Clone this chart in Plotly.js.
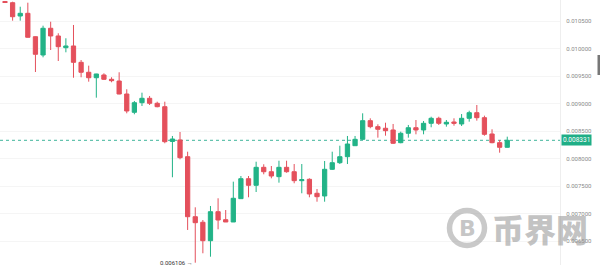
<!DOCTYPE html>
<html>
<head>
<meta charset="utf-8">
<script src="https://cdn.plot.ly/plotly-3.0.1.min.js"></script>
<style>
  html, body { margin: 0; padding: 0; background: #fff; }
  #chart { width: 600px; height: 265px; }
</style>
</head>
<body>
<div id="chart"></div>
<script>
// OHLC values (oldest first)
const openV = [
  0.010873, 0.010855, 0.010833, 0.010591, 0.010640, 0.010215, 0.009882, 0.010368, 0.010228, 0.010015,
  0.010046, 0.009749, 0.009568, 0.009469, 0.009519, 0.009440, 0.009409, 0.009173, 0.008840, 0.009015,
  0.009095, 0.009004, 0.008942, 0.008310, 0.008337, 0.008033, 0.006942, 0.006841, 0.006506, 0.007033,
  0.006888, 0.006846, 0.007270, 0.007633, 0.007513, 0.007840, 0.007760, 0.007670, 0.007840, 0.007760,
  0.007597, 0.007622, 0.007368, 0.007319, 0.007804, 0.007924, 0.008033, 0.008233, 0.008349, 0.008688,
  0.008579, 0.008550, 0.008519, 0.008288, 0.008459, 0.008560, 0.008519, 0.008640, 0.008731, 0.008628,
  0.008664, 0.008628, 0.008731, 0.008833, 0.008742, 0.008446, 0.008288, 0.008204
];
const highV = [
  0.010882, 0.010864, 0.010851, 0.010760, 0.010833, 0.010220, 0.010415, 0.010487, 0.010277, 0.010186,
  0.010428, 0.009791, 0.009688, 0.009540, 0.009549, 0.009477, 0.009568, 0.009259, 0.009046, 0.009197,
  0.009137, 0.009033, 0.009033, 0.008410, 0.008482, 0.008124, 0.007113, 0.006882, 0.007137, 0.007277,
  0.007064, 0.007579, 0.007682, 0.007682, 0.007942, 0.007895, 0.007864, 0.007960, 0.007960, 0.007900,
  0.007900, 0.007640, 0.007446, 0.007955, 0.008124, 0.008233, 0.008410, 0.008410, 0.008822, 0.008731,
  0.008622, 0.008651, 0.008628, 0.008488, 0.008610, 0.008700, 0.008682, 0.008760, 0.008760, 0.008700,
  0.008731, 0.008809, 0.008869, 0.008973, 0.008779, 0.008531, 0.008337, 0.008397
];
const lowV = [
  0.010827, 0.010827, 0.010506, 0.010506, 0.010200, 0.009573, 0.009840, 0.009973, 0.009773, 0.009931,
  0.009469, 0.009477, 0.009397, 0.009106, 0.009428, 0.009386, 0.009168, 0.008822, 0.008804, 0.008955,
  0.008973, 0.008931, 0.008277, 0.007659, 0.007986, 0.006701, 0.006106, 0.006277, 0.006215, 0.006713,
  0.006846, 0.006846, 0.007270, 0.007295, 0.007391, 0.007713, 0.007640, 0.007561, 0.007742, 0.007550,
  0.007368, 0.007295, 0.007215, 0.007215, 0.007791, 0.007900, 0.007900, 0.008233, 0.008337, 0.008550,
  0.008379, 0.008415, 0.008264, 0.008277, 0.008379, 0.008440, 0.008440, 0.008568, 0.008610, 0.008579,
  0.008597, 0.008591, 0.008670, 0.008688, 0.008415, 0.008277, 0.008106, 0.008200
];
const closeV = [
  0.010845, 0.010837, 0.010578, 0.010640, 0.010204, 0.009895, 0.010368, 0.010228, 0.010033, 0.010046,
  0.009749, 0.009568, 0.009469, 0.009537, 0.009440, 0.009415, 0.009173, 0.008864, 0.009015, 0.009095,
  0.009004, 0.008942, 0.008306, 0.008355, 0.008015, 0.006942, 0.006833, 0.006506, 0.007033, 0.006882,
  0.006846, 0.007277, 0.007633, 0.007513, 0.007840, 0.007760, 0.007682, 0.007840, 0.007760, 0.007597,
  0.007615, 0.007355, 0.007306, 0.007804, 0.007924, 0.008033, 0.008264, 0.008349, 0.008688, 0.008579,
  0.008531, 0.008506, 0.008277, 0.008459, 0.008560, 0.008519, 0.008640, 0.008731, 0.008640, 0.008659,
  0.008640, 0.008731, 0.008833, 0.008742, 0.008440, 0.008288, 0.008204, 0.008331
];
const tickVals = [0.0065, 0.0070, 0.0075, 0.0080, 0.0085, 0.0090, 0.0095, 0.0100, 0.0105];
const lastPrice = 0.008331;
const lowPrice = 0.006106;
const lowIndex = 26;
const watermarkText = "币界网";

const xIdx = openV.map((_, i) => i);

const trace = {
  type: 'candlestick',
  x: xIdx,
  open: openV, high: highV, low: lowV, close: closeV,
  increasing: { line: { color: '#22b387', width: 1 }, fillcolor: '#22b387' },
  decreasing: { line: { color: '#e4505c', width: 1 }, fillcolor: '#e4505c' },
  whiskerwidth: 0,
  hoverinfo: 'skip'
};

const layout = {
  width: 600, height: 265,
  margin: { l: 0, r: 40, t: 0, b: 0 },
  paper_bgcolor: '#ffffff', plot_bgcolor: '#ffffff',
  showlegend: false,
  boxgap: 0.2,
  font: { family: 'Roboto, "Open Sans", sans-serif', size: 6, color: '#8a8a8a' },
  xaxis: {
    range: [0.343, 73.93],
    visible: false,
    rangeslider: { visible: false },
    fixedrange: true
  },
  yaxis: {
    side: 'right',
    range: [0.006064, 0.010882],
    tickvals: tickVals,
    tickformat: '.6f',
    ticks: '',
    ticklabelstandoff: 4,
    showgrid: true, gridcolor: '#f5f5f5', gridwidth: 1,
    zeroline: false,
    showline: true, linecolor: '#eeeeee', linewidth: 1,
    tickfont: { size: 6, color: '#8a8a8a' },
    fixedrange: true
  },
  shapes: [
    { type: 'line', xref: 'paper', x0: 0, x1: 1, yref: 'y', y0: lastPrice, y1: lastPrice,
      line: { color: '#3fb59a', width: 1, dash: 'dot' }, layer: 'below' },
    { type: 'circle', xref: 'paper', yref: 'paper',
      x0: 449.5 / 560, x1: 484.5 / 560, y0: (265 - 245.5) / 265, y1: (265 - 210.5) / 265,
      line: { color: 'rgba(165,165,165,0.6)', width: 5.5 }, fillcolor: 'rgba(0,0,0,0)' },
    { type: 'rect', xref: 'paper', yref: 'paper',
      x0: 597.5 / 560, x1: 600 / 560, y0: (265 - 75) / 265, y1: (265 - 55) / 265,
      line: { width: 0 }, fillcolor: '#777777' }
  ],
  annotations: [
    { xref: 'paper', x: 561 / 560, xanchor: 'left', yref: 'y', y: lastPrice, yanchor: 'middle',
      text: lastPrice.toFixed(6), showarrow: false,
      bgcolor: '#1fae86', borderpad: 1,
      font: { size: 6.5, color: '#ffffff', family: 'Roboto, sans-serif' } },
    { xref: 'x', x: lowIndex, xanchor: 'right', xshift: 0, yref: 'y', y: lowPrice, yanchor: 'middle',
      text: lowPrice.toFixed(6) + ' →', showarrow: false,
      font: { size: 6, color: '#333333', family: 'Roboto, sans-serif' } },
    { xref: 'paper', x: 467 / 560, xanchor: 'center', yref: 'paper', y: (265 - 228) / 265, yanchor: 'middle',
      text: 'B', showarrow: false,
      font: { size: 22, weight: 900, color: 'rgba(160,160,160,0.6)', family: 'DejaVu Sans, sans-serif' } },
    { xref: 'paper', x: 540 / 560, xanchor: 'center', yref: 'paper', y: (265 - 228) / 265, yanchor: 'middle',
      text: watermarkText, showarrow: false,
      font: { size: 32, weight: 900, color: 'rgba(155,155,155,0.6)', family: '"Noto Sans CJK SC", sans-serif' } }
  ]
};

Plotly.newPlot('chart', [trace], layout, { staticPlot: true, displayModeBar: false });
</script>
</body>
</html>
